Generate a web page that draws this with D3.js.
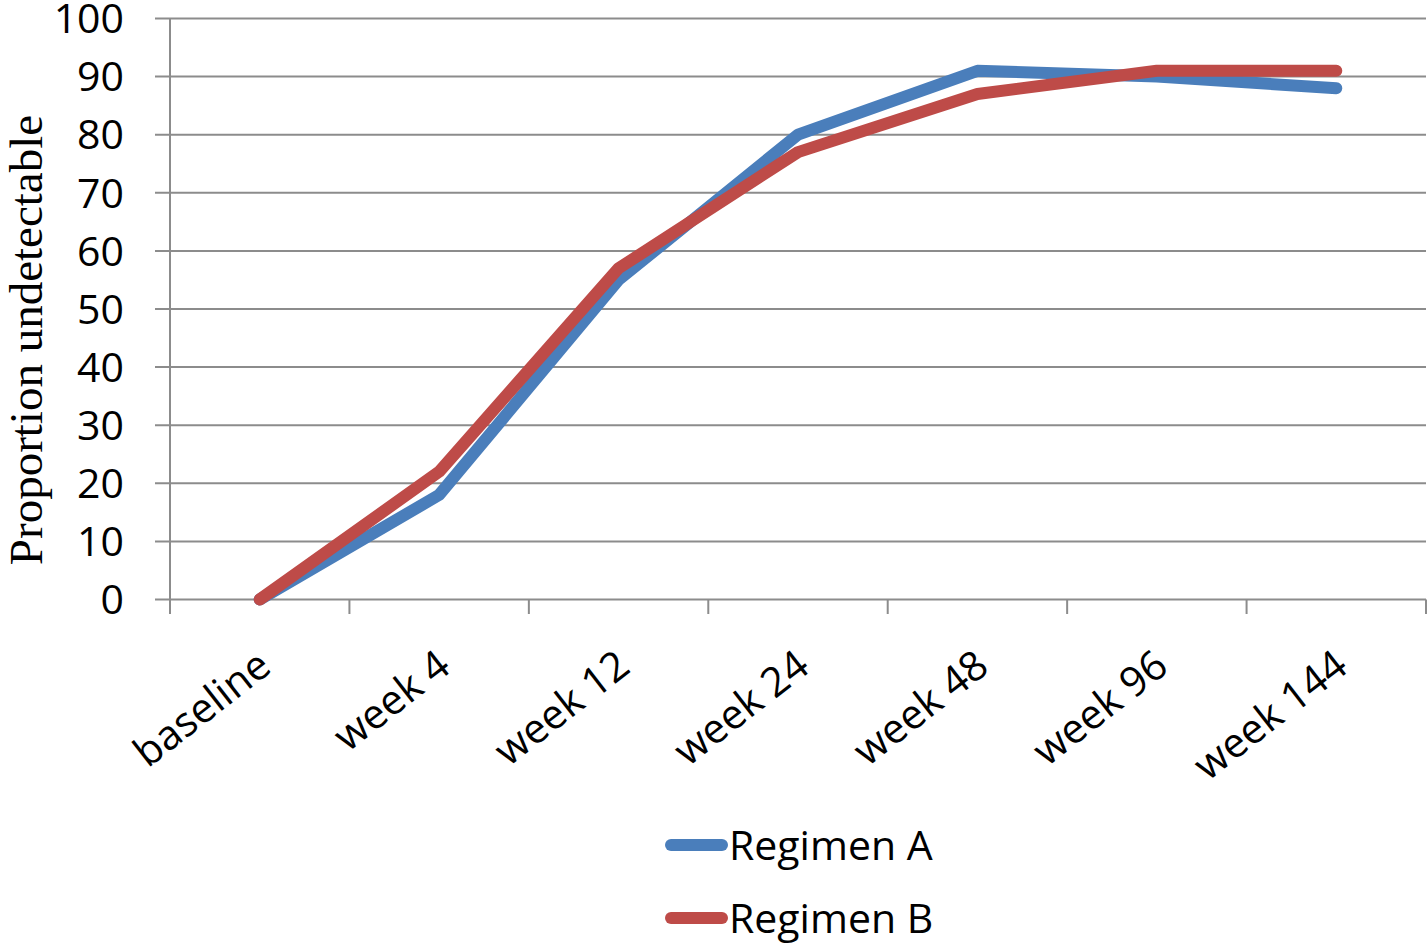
<!DOCTYPE html>
<html>
<head>
<meta charset="utf-8">
<script src="https://cdn.jsdelivr.net/npm/d3@7"></script>
<style>
  body { margin: 0; background: #fff; }
</style>
</head>
<body>
<script>
var categories = ['baseline', 'week 4', 'week 12', 'week 24', 'week 48', 'week 96', 'week 144'];
var regimenA = [0, 18, 55, 80, 91, 90, 88];
var regimenB = [0, 22, 57, 77, 87, 91, 91];
var yTicks = [0, 10, 20, 30, 40, 50, 60, 70, 80, 90, 100];
var seriesNames = ['Regimen A', 'Regimen B'];
var colors = ['#4a7ebb', '#be4b48'];

var sans = '"Open Sans", "Noto Sans", sans-serif';

var svg = d3.select('body').append('svg')
	.attr('width', 1428)
	.attr('height', 944);

var x = d3.scaleBand().domain(categories).range([170, 1426]);
var y = d3.scaleLinear().domain([0, 100]).range([599.5, 18.5]);

// gridlines
svg.append('g').selectAll('line')
	.data(yTicks)
	.enter().append('line')
	.attr('x1', 155)
	.attr('x2', 1426)
	.attr('y1', function(d){ return y(d); })
	.attr('y2', function(d){ return y(d); })
	.attr('stroke', '#8c8c8c')
	.attr('stroke-width', 2);

// y axis line
svg.append('line')
	.attr('x1', 170).attr('x2', 170)
	.attr('y1', y(100)).attr('y2', 614)
	.attr('stroke', '#8c8c8c')
	.attr('stroke-width', 2);

// x tick marks
var tickPos = categories.map(function(c){ return x(c); }).concat([x.range()[1]]);
svg.append('g').selectAll('line')
	.data(tickPos)
	.enter().append('line')
	.attr('x1', function(d){ return d; })
	.attr('x2', function(d){ return d; })
	.attr('y1', y(0))
	.attr('y2', 614)
	.attr('stroke', '#8c8c8c')
	.attr('stroke-width', 2);

// y tick labels
svg.append('g').selectAll('text')
	.data(yTicks)
	.enter().append('text')
	.attr('x', 124)
	.attr('y', function(d){ return y(d); })
	.attr('dy', '0.36em')
	.attr('text-anchor', 'end')
	.attr('font-family', sans)
	.attr('font-size', 41)
	.attr('fill', '#000')
	.text(function(d){ return d; });

// y title
svg.append('text')
	.attr('transform', 'translate(42,340) rotate(-90)')
	.attr('text-anchor', 'middle')
	.attr('font-family', '"Liberation Serif", "Times New Roman", serif')
	.attr('font-size', 47)
	.attr('fill', '#000')
	.text('Proportion undetectable');

// x labels
svg.append('g').selectAll('text')
	.data(categories)
	.enter().append('text')
	.attr('transform', function(d){
		return 'translate(' + (x(d) + x.bandwidth() / 2 - 4) + ',648) rotate(-38)';
	})
	.attr('text-anchor', 'end')
	.attr('dy', '0.7em')
	.attr('font-family', sans)
	.attr('font-size', 41)
	.attr('fill', '#000')
	.text(function(d){ return d; });

// lines
var line = d3.line()
	.x(function(d, i){ return x(categories[i]) + x.bandwidth() / 2; })
	.y(function(d){ return y(d); });

[regimenA, regimenB].forEach(function(s, i){
	svg.append('path')
		.attr('d', line(s))
		.attr('fill', 'none')
		.attr('stroke', colors[i])
		.attr('stroke-width', 12)
		.attr('stroke-linecap', 'round')
		.attr('stroke-linejoin', 'round');
});

// legend
seriesNames.forEach(function(name, i){
	var ly = 845 + i * 73;
	svg.append('line')
		.attr('x1', 671).attr('x2', 722)
		.attr('y1', ly).attr('y2', ly)
		.attr('stroke', colors[i])
		.attr('stroke-width', 12)
		.attr('stroke-linecap', 'round');
	svg.append('text')
		.attr('x', 729)
		.attr('y', ly)
		.attr('dy', '0.36em')
		.attr('font-family', sans)
		.attr('font-size', 41)
		.attr('fill', '#000')
		.text(name);
});
</script>
</body>
</html>
